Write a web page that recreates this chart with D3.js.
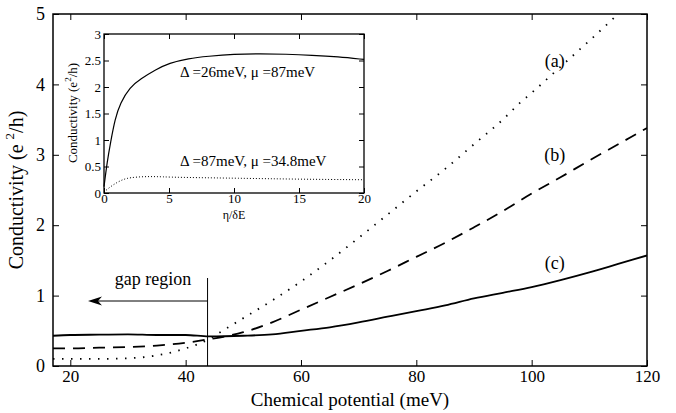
<!DOCTYPE html>
<html><head><meta charset="utf-8">
<script src="https://cdn.jsdelivr.net/npm/d3@7"></script>
<style>body{margin:0;background:#fff}svg{display:block}</style>
</head><body><svg id="c" width="676" height="413"></svg>
<script>
// Main chart data (chemical potential in meV vs conductivity in e^2/h)
const muA = [17, 20, 25, 30, 35, 40, 44, 46, 50, 55, 60, 65, 70, 75, 80, 85, 90, 95, 98, 100, 105, 110, 115];
const sigA = [0.1, 0.1, 0.1, 0.11, 0.15, 0.25, 0.38, 0.48, 0.68, 0.93, 1.2, 1.5, 1.82, 2.15, 2.48, 2.8, 3.15, 3.5, 3.74, 3.88, 4.25, 4.62, 5.0];
const muB = [17, 20, 25, 30, 35, 40, 44, 50, 55, 60, 65, 70, 75, 80, 85, 90, 95, 100, 105, 110, 115, 120];
const sigB = [0.25, 0.25, 0.26, 0.27, 0.29, 0.33, 0.38, 0.48, 0.62, 0.8, 0.98, 1.16, 1.35, 1.55, 1.75, 1.97, 2.2, 2.45, 2.68, 2.92, 3.15, 3.38];
const muC = [17, 20, 25, 30, 35, 40, 44, 50, 55, 60, 65, 70, 75, 80, 85, 90, 95, 100, 105, 110, 115, 120];
const sigC = [0.43, 0.44, 0.445, 0.45, 0.44, 0.44, 0.42, 0.43, 0.45, 0.5, 0.55, 0.62, 0.7, 0.78, 0.86, 0.96, 1.04, 1.12, 1.22, 1.33, 1.45, 1.57];
const seriesLabels = ["(a)", "(b)", "(c)"];
const labelPos = [[104, 4.3], [104, 2.97], [104, 1.43]];
const xTicks = [20, 40, 60, 80, 100, 120];
const yTicks = [0, 1, 2, 3, 4, 5];
const gapEdge = 43.8;
const gapText = "gap region";
// Inset data (eta/deltaE vs conductivity)
const etaS = [0, 0.25, 0.5, 0.85, 1.25, 2, 2.8, 4, 5, 6.5, 8, 10, 12, 14, 16, 18, 20];
const sigS = [0.12, 0.6, 0.95, 1.4, 1.7, 2.0, 2.15, 2.33, 2.45, 2.54, 2.58, 2.62, 2.63, 2.62, 2.6, 2.57, 2.52];
const etaD = [0, 0.5, 1, 1.5, 2, 3, 4, 5, 7, 10, 15, 20];
const sigD = [0.02, 0.12, 0.2, 0.26, 0.29, 0.31, 0.31, 0.3, 0.29, 0.28, 0.26, 0.25];
const insetXTicks = [0, 5, 10, 15, 20];
const insetYTicks = [0, 0.5, 1, 1.5, 2, 2.5, 3];
const insetLabels = ["Δ =26meV,  μ =87meV", "Δ =87meV,  μ =34.8meV"];

const FONT = "'Liberation Serif', 'Times New Roman', 'DejaVu Serif', serif";
const svg = d3.select("#c").attr("font-family", FONT);
const M = {l: 53, r: 647, t: 14, b: 366};
const x = d3.scaleLinear().domain([17, 120]).range([M.l, M.r]);
const y = d3.scaleLinear().domain([0, 5]).range([M.b, M.t]);

svg.append("clipPath").attr("id", "mainclip").append("rect")
  .attr("x", M.l).attr("y", M.t).attr("width", M.r - M.l).attr("height", M.b - M.t);

function axisStyle(g) {
  g.attr("font-family", FONT);
  g.select(".domain").remove();
  g.selectAll("line").attr("stroke", "#000").attr("stroke-width", 1);
  g.selectAll("text").attr("font-family", FONT).attr("fill", "#000");
}
svg.append("g").attr("transform", `translate(0,${M.b})`)
  .call(d3.axisBottom(x).tickValues(xTicks).tickSize(-6).tickPadding(4).tickFormat(d3.format("d")))
  .call(axisStyle).call(g => g.selectAll("text").attr("font-size", 17));
svg.append("g").attr("transform", `translate(0,${M.t})`)
  .call(d3.axisTop(x).tickValues(xTicks).tickSize(-6).tickFormat(""))
  .call(axisStyle);
svg.append("g").attr("transform", `translate(${M.l},0)`)
  .call(d3.axisLeft(y).tickValues(yTicks).tickSize(-6).tickPadding(8).tickFormat(d3.format("d")))
  .call(axisStyle).call(g => g.selectAll("text").attr("font-size", 18));
svg.append("g").attr("transform", `translate(${M.r},0)`)
  .call(d3.axisRight(y).tickValues(yTicks).tickSize(-6).tickFormat(""))
  .call(axisStyle);
svg.append("rect").attr("x", M.l).attr("y", M.t).attr("width", M.r - M.l).attr("height", M.b - M.t)
  .attr("fill", "none").attr("stroke", "#000").attr("stroke-width", 1.5);

const line = d3.line().x(d => x(d[0])).y(d => y(d[1])).curve(d3.curveMonotoneX);
const gCurves = svg.append("g").attr("clip-path", "url(#mainclip)");
gCurves.append("path").datum(d3.zip(muA, sigA)).attr("d", line)
  .attr("fill", "none").attr("stroke", "#000").attr("stroke-width", 1.8)
  .attr("stroke-dasharray", "1.5,7.5");
gCurves.append("path").datum(d3.zip(muB, sigB)).attr("d", line)
  .attr("fill", "none").attr("stroke", "#000").attr("stroke-width", 1.8)
  .attr("stroke-dasharray", "12,8");
gCurves.append("path").datum(d3.zip(muC, sigC)).attr("d", line)
  .attr("fill", "none").attr("stroke", "#000").attr("stroke-width", 1.8);

seriesLabels.forEach((t, i) => {
  svg.append("text").attr("x", x(labelPos[i][0])).attr("y", y(labelPos[i][1]))
    .attr("text-anchor", "middle").attr("dominant-baseline", "middle")
    .attr("font-family", FONT).attr("font-size", 18).text(t);
});

svg.append("line").attr("x1", x(gapEdge)).attr("x2", x(gapEdge)).attr("y1", 278).attr("y2", M.b)
  .attr("stroke", "#000").attr("stroke-width", 1);
svg.append("line").attr("x1", x(gapEdge)).attr("x2", 96).attr("y1", 301).attr("y2", 301)
  .attr("stroke", "#000").attr("stroke-width", 1);
svg.append("path").attr("d", "M88,301 L102,296.5 L98,301 L102,305.5 Z").attr("fill", "#000");
svg.append("text").attr("x", 153).attr("y", 281).attr("text-anchor", "middle")
  .attr("dominant-baseline", "middle").attr("font-family", FONT).attr("font-size", 18).text(gapText);

svg.append("text").attr("x", 350).attr("y", 402).attr("text-anchor", "middle")
  .attr("dominant-baseline", "middle").attr("font-family", FONT).attr("font-size", 19).text("Chemical potential (meV)");
const yl = svg.append("text").attr("transform", "translate(18,190) rotate(-90)")
  .attr("text-anchor", "middle").attr("dominant-baseline", "middle")
  .attr("font-family", FONT).attr("font-size", 20);
yl.append("tspan").text("Conductivity (e ");
yl.append("tspan").attr("font-size", 13).attr("dy", -7).text("2");
yl.append("tspan").attr("dy", 7).text("/h)");

// inset
const I = {l: 104, r: 364, t: 34, b: 193};
const ix = d3.scaleLinear().domain([0, 20]).range([I.l, I.r]);
const iy = d3.scaleLinear().domain([0, 3]).range([I.b, I.t]);
svg.append("rect").attr("x", I.l).attr("y", I.t).attr("width", I.r - I.l).attr("height", I.b - I.t)
  .attr("fill", "#fff");
svg.append("g").attr("transform", `translate(0,${I.b})`)
  .call(d3.axisBottom(ix).tickValues(insetXTicks).tickSize(-5).tickPadding(1).tickFormat(d3.format("d")))
  .call(axisStyle).call(g => g.selectAll("text").attr("font-size", 13));
svg.append("g").attr("transform", `translate(0,${I.t})`)
  .call(d3.axisTop(ix).tickValues(insetXTicks).tickSize(-5).tickFormat(""))
  .call(axisStyle);
svg.append("g").attr("transform", `translate(${I.l},0)`)
  .call(d3.axisLeft(iy).tickValues(insetYTicks).tickSize(-5).tickPadding(3).tickFormat(d => String(d)))
  .call(axisStyle).call(g => g.selectAll("text").attr("font-size", 13));
svg.append("g").attr("transform", `translate(${I.r},0)`)
  .call(d3.axisRight(iy).tickValues(insetYTicks).tickSize(-5).tickFormat(""))
  .call(axisStyle);
svg.append("rect").attr("x", I.l).attr("y", I.t).attr("width", I.r - I.l).attr("height", I.b - I.t)
  .attr("fill", "none").attr("stroke", "#000").attr("stroke-width", 1.3);
const iline = d3.line().x(d => ix(d[0])).y(d => iy(d[1])).curve(d3.curveBasis);
svg.append("path").datum(d3.zip(etaS, sigS)).attr("d", iline)
  .attr("fill", "none").attr("stroke", "#000").attr("stroke-width", 1.2);
svg.append("path").datum(d3.zip(etaD, sigD)).attr("d", iline)
  .attr("fill", "none").attr("stroke", "#000").attr("stroke-width", 1)
  .attr("stroke-dasharray", "1,2");
svg.append("text").attr("x", 180).attr("y", 74).attr("dominant-baseline", "middle")
  .attr("font-family", FONT).attr("font-size", 15).text(insetLabels[0]);
svg.append("text").attr("x", 180).attr("y", 163).attr("dominant-baseline", "middle")
  .attr("font-family", FONT).attr("font-size", 15).text(insetLabels[1]);
svg.append("text").attr("x", ix(10)).attr("y", 216).attr("text-anchor", "middle")
  .attr("dominant-baseline", "middle").attr("font-family", FONT).attr("font-size", 12).text("η/δE");
const iyl = svg.append("text").attr("transform", "translate(74,113) rotate(-90)")
  .attr("text-anchor", "middle").attr("dominant-baseline", "middle")
  .attr("font-family", FONT).attr("font-size", 13);
iyl.append("tspan").text("Conductivity (e");
iyl.append("tspan").attr("font-size", 9).attr("dy", -5).text("2");
iyl.append("tspan").attr("dy", 5).text("/h)");
</script></body></html>
